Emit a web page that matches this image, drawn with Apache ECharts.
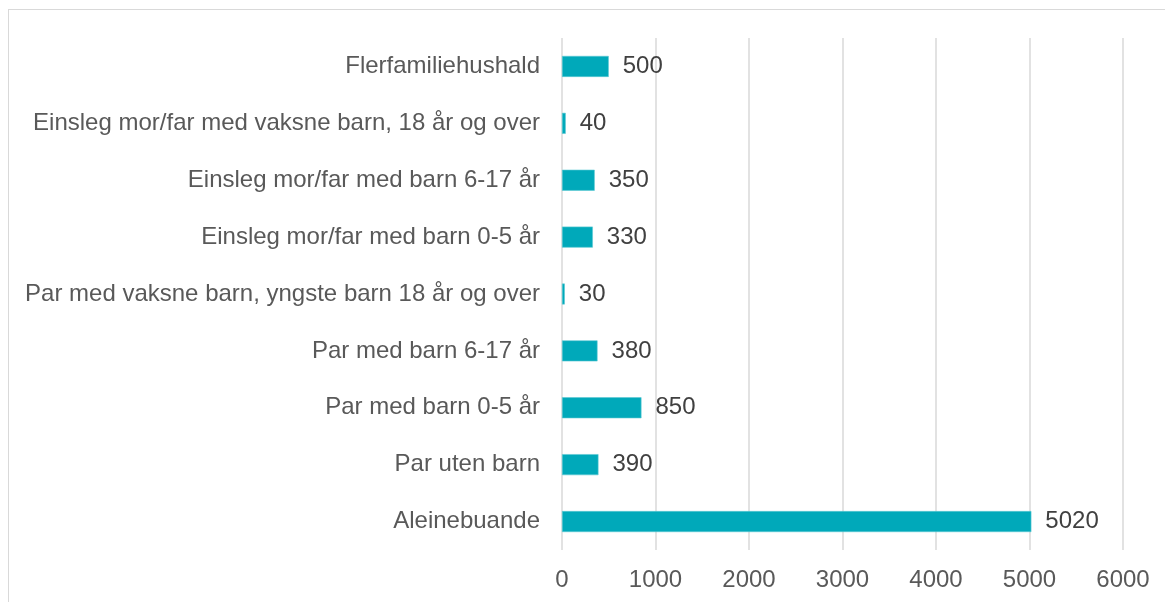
<!DOCTYPE html>
<html>
<head>
<meta charset="utf-8">
<script src="https://cdn.jsdelivr.net/npm/echarts@6/dist/echarts.min.js"></script>
<style>
  html, body { margin: 0; padding: 0; background: #fff; }
  .frame {
    position: absolute; left: 8px; top: 9px; width: 1200px; height: 640px;
    border: 1px solid #d9d9d9; box-sizing: border-box;
  }
  #main { position: absolute; left: 0; top: 0; width: 1165px; height: 602px; }
</style>
</head>
<body>
<div class="frame"></div>
<div id="main"></div>
<script>
  // kategoriar, ovanfrå og ned
  var categories = [
    'Flerfamiliehushald',
    'Einsleg mor/far med vaksne barn, 18 år og over',
    'Einsleg mor/far med barn 6-17 år',
    'Einsleg mor/far med barn 0-5 år',
    'Par med vaksne barn, yngste barn 18 år og over',
    'Par med barn 6-17 år',
    'Par med barn 0-5 år',
    'Par uten barn',
    'Aleinebuande'
  ];
  var values = [500, 40, 350, 330, 30, 380, 850, 390, 5020];
  var xTicks = [0, 1000, 2000, 3000, 4000, 5000, 6000];

  var font = 'Liberation Sans';
  var chart = echarts.init(document.getElementById('main'));
  chart.setOption({
    animation: false,
    grid: { left: 562, right: 42, top: 38, bottom: 52, containLabel: false },
    xAxis: {
      type: 'value',
      min: xTicks[0],
      max: xTicks[xTicks.length - 1],
      interval: xTicks[1] - xTicks[0],
      axisLine: { show: false },
      axisTick: { show: false },
      axisLabel: {
        color: '#595959', fontSize: 24, fontFamily: font, margin: 18,
        formatter: function (v) { return String(v); }
      },
      splitLine: { show: true, lineStyle: { color: '#d9d9d9', width: 1.5 } }
    },
    yAxis: {
      type: 'category',
      inverse: true,
      data: categories,
      axisLine: { show: false },
      axisTick: { show: false },
      axisLabel: { color: '#595959', fontSize: 24, fontFamily: font, margin: 22 }
    },
    series: [{
      type: 'bar',
      data: values,
      barWidth: 21,
      itemStyle: { color: '#00A9BA', borderColor: '#5cc9d4', borderWidth: 0.6 },
      label: {
        show: true,
        position: 'right',
        distance: 14,
        color: '#404040',
        fontSize: 24,
        fontFamily: font
      }
    }]
  });
</script>
</body>
</html>
